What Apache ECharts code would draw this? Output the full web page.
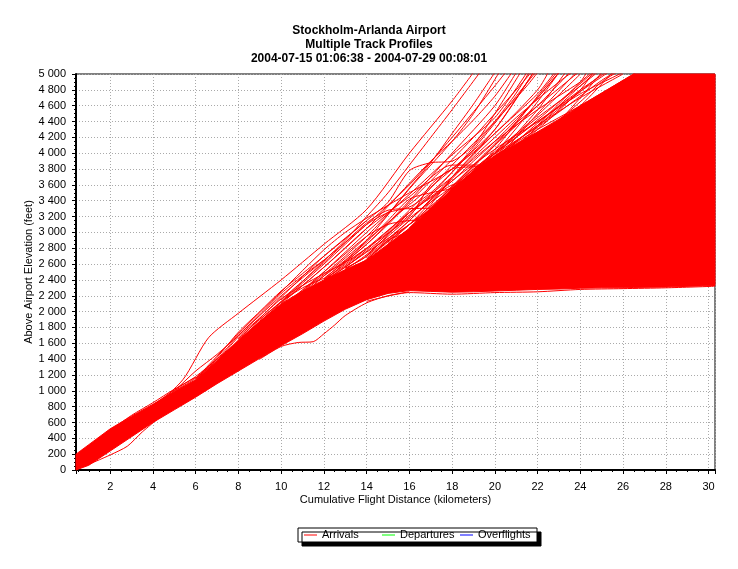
<!DOCTYPE html>
<html><head><meta charset="utf-8">
<script src="https://cdn.jsdelivr.net/npm/echarts@6/dist/echarts.min.js"></script>
<style>html,body{margin:0;padding:0;background:#fff}#c{width:738px;height:569px}</style>
</head><body><div id="c"></div>
<script>
const titleLines = ['Stockholm-Arlanda Airport', 'Multiple Track Profiles', '2004-07-15 01:06:38 - 2004-07-29 00:08:01'];
const legendNames = ['Arrivals', 'Departures', 'Overflights'];
const legendColors = ['#ff0000', '#00ff00', '#0000ff'];

// dense core of arrival profiles (km, lower ft, upper ft)
const bandKm   = [0.4, 1, 2, 3, 4, 5, 6, 7, 8, 9, 10, 11, 12, 13, 14, 15, 16, 17, 18, 19, 20, 21, 22, 23, 24, 25, 26, 26.5, 28, 30.3];
const bandLow  = [0, 60, 240, 420, 600, 760, 920, 1090, 1250, 1410, 1570, 1720, 1880, 2030, 2150, 2230, 2265, 2255, 2245, 2250, 2260, 2270, 2280, 2285, 2295, 2300, 2300, 2305, 2310, 2330];
const bandHigh = [200, 320, 520, 680, 830, 990, 1140, 1380, 1640, 1880, 2100, 2260, 2400, 2530, 2650, 2850, 3050, 3300, 3550, 3780, 3970, 4120, 4270, 4430, 4600, 4760, 4920, 5000, 5000, 5000];

// individual arrival tracks visible outside the core [km, ft]
const tracks = [
 [[0.5,130],[2,420],[4,790],[5.4,1140],[6.6,1670],[8,1980],[10,2400],[12,2850],[14,3290],[16,4000],[18,4660],[19,5020]],
 [[4,800],[5,1000],[6,1250],[7,1460],[8,1700],[9,1950],[10,2200],[12,2650],[14,3100],[16,3600],[18,4200],[20,4850],[20.5,5020]],
 [[6,1150],[8,1720],[10,2250],[12,2780],[13,3000],[14,3180],[16,3500],[18,3800],[20,4250],[22,4800],[22.5,5020]],
 [[8,1650],[10,2180],[12,2700],[14,3150],[15,3380],[16,3780],[17,3880],[18,3900],[19,4100],[20,4500],[21.2,5020]],
 [[10,2100],[12,2560],[14,3050],[16,3450],[18,3850],[19,3850],[20,3880],[22,4300],[24,4800],[24.6,5020]],
 [[10,2050],[12,2500],[14,2950],[15,3100],[16,3150],[17,3170],[18,3400],[20,3950],[22,4550],[23.3,5020]],
 [[11,2200],[12,2450],[14,2900],[16,3350],[18,3800],[20,4300],[21.8,5020]],
 [[12,2400],[14,2800],[16,3200],[17,3600],[18,3800],[19,3830],[20,3850],[22,4200],[24,4600],[25.5,5020]],
 [[12,2380],[14,2750],[16,3100],[18,3500],[20,4000],[22,4650],[23,5020]],
 [[13,2550],[14,2700],[16,3250],[18,3700],[20,4150],[22,4550],[24,4900],[24.5,5020]],
 [[13,2500],[14,2660],[15,2900],[16,3000],[17,3020],[18,3200],[20,3700],[22,4350],[24,4900],[24.3,5020]],
 [[14,2650],[16,3150],[18,3650],[20,4050],[22,4400],[24,4750],[26,5020]],
 [[9,1850],[10,2050],[12,2450],[13,2650],[14,2900],[16,3550],[18,4150],[19,4500],[20.2,5020]],
 [[10,2150],[12,2620],[14,3120],[15,3280],[16,3300],[18,3320],[19,3600],[20,3900],[22,4500],[23.8,5020]],
 [[12,2420],[14,2850],[16,3400],[18,4000],[20,4600],[21,5020]],
 [[15,2850],[16,3050],[18,3580],[20,4100],[22,4600],[23.5,5020]],
 [[16,3000],[18,3500],[20,4000],[22,4450],[24,4850],[24.8,5020]],
 [[17,3250],[18,3450],[20,3900],[22,4380],[24,4800],[25.2,5020]],
 [[18,3500],[20,3950],[22,4350],[24,4700],[26,5000]],
 [[14,2680],[16,3100],[18,3480],[20,3860],[22,4200],[24,4650],[25,4900],[25.7,5020]],
 [[11,2250],[12,2500],[14,3000],[16,3480],[18,3980],[20,4450],[21.5,5020]],
 [[12,2410],[13,2580],[14,2800],[16,3250],[18,3650],[19,3900],[20,4150],[22,4700],[23,5020]],
 [[14,2700],[15,3000],[16,3250],[18,3600],[19,3660],[20,3700],[21,3800],[22,4100],[24,4700],[25,5020]],
 [[16,3050],[17,3350],[18,3700],[20,4300],[21.8,5020]],
 [[19,3780],[20,4000],[22,4400],[24,4780],[25.3,5020]],
 [[20,3970],[22,4300],[24,4600],[26,4920],[26.6,5020]],
 [[13,2530],[14,2720],[16,3180],[18,3580],[20,4020],[22,4480],[24,5000]],
 [[15,2800],[16,2950],[17,3200],[18,3550],[20,4100],[22,4700],[23,5020]],
 [[4,820],[5,1010],[6,1180],[7,1400],[8,1620],[9,1860],[10,2120],[11,2300],[12,2420]],
 [[6,1160],[7,1380],[8,1680],[9,1920],[10,2160],[11,2330],[12,2480],[13,2620],[14,2800]],
 [[0.6,230],[1,300],[2,500],[3,690],[4,850],[5,1020],[6,1170]],
 [[0.9,60],[1.5,130],[2,190],[2.8,300],[3.5,480],[4.2,640]],
 [[9,1400],[10,1560],[10.8,1610],[11.5,1620],[12,1720],[12.5,1830],[13,1950],[14,2110],[15,2200],[16,2250]],
 [[14,2130],[16,2240],[18,2220],[20,2240],[22,2250],[24,2280],[26,2290],[28,2300],[30.3,2320]],
 [[11,2150],[12,2380],[13,2620],[14,2850],[15,3100],[16,3380],[17,3650],[18,3920],[19,4200],[20,4500],[21,4800],[21.7,5020]],
 [[12,2390],[13,2560],[14,2780],[15,3020],[16,3280],[17,3560],[18,3850],[20,4400],[21.5,4850],[22,5020]],
 [[10,2120],[11,2330],[12,2560],[13,2800],[14,3050],[15,3330],[16,3620],[17,3900],[18,4150],[19,4420],[20,4720],[20.8,5020]],
 [[9,1900],[10,2130],[11,2380],[12,2640],[13,2900],[14,3200],[15,3500],[16,3850],[17,4200],[18,4550],[19.3,5020]],
 [[13,2540],[14,2700],[15,2920],[16,3150],[17,3420],[18,3700],[19,3980],[20,4250],[22,4750],[22.8,5020]],
 [[14,2660],[15,2880],[16,3100],[17,3330],[18,3560],[19,3760],[20,3960],[21,4150],[22,4350],[23,4560],[24,4780],[25,5000]],
 [[12,2410],[13,2640],[14,2880],[15,3150],[16,3420],[17,3500],[18,3560],[19,3750],[20,4050],[21,4380],[22,4720],[22.9,5020]],
 [[15,2860],[16,3100],[17,3380],[18,3680],[19,3950],[20,4200],[21,4450],[22,4680],[23,4900],[23.6,5020]],
 [[16,3060],[17,3300],[18,3580],[19,3850],[20,4120],[21,4380],[22,4600],[23,4820],[23.9,5020]],
 [[8,1660],[9,1900],[10,2120],[11,2360],[12,2600],[13,2850],[14,3100],[15,3250],[16,3320],[17,3500],[18,3760],[19,4050],[20,4380],[21,4720],[21.9,5020]],
 [[18,3560],[19,3800],[20,4000],[21,4200],[22,4420],[23,4650],[24,4880],[24.6,5020]],
 [[19,3790],[20,3990],[21,4160],[22,4330],[23,4520],[24,4720],[25,4920],[25.6,5020]],
 [[13,2560],[14,2760],[15,2980],[16,3220],[17,3470],[18,3760],[19,4080],[20,4400],[21,4760],[21.6,5020]],
 [[17,3310],[18,3520],[19,3720],[20,3900],[21,4100],[22,4330],[23,4600],[24,4850],[24.7,5020]],
 [[11,2270],[12,2470],[13,2700],[14,2950],[15,3230],[16,3560],[17,3880],[18,4250],[19,4620],[20,5020]],
 [[5,1000],[6,1160],[7,1400],[8,1700],[9,1960],[10,2230],[11,2450],[12,2650]],
 [[6,1140],[7,1420],[8,1740],[9,2000],[10,2260],[11,2480],[12,2700],[13,2920],[14,3150]]
];

const FONT = 'Liberation Sans, Arial, sans-serif';
const chart = echarts.init(document.getElementById('c'), null, {renderer: 'canvas'});

function fmtFt(v) {
  if (v >= 1000) return Math.floor(v / 1000) + ' ' + String(v % 1000).padStart(3, '0');
  return String(v);
}

const series = [];
series.push({
  type: 'custom', name: legendNames[0], silent: true, z: 2,
  itemStyle: {color: legendColors[0]},
  data: [[bandKm[0], bandLow[0]]],
  renderItem: function (params, api) {
    const pts = [];
    for (let i = 0; i < bandKm.length; i++) pts.push(api.coord([bandKm[i], bandHigh[i]]));
    for (let i = bandKm.length - 1; i >= 0; i--) pts.push(api.coord([bandKm[i], bandLow[i]]));
    return {type: 'polygon', shape: {points: pts}, style: {fill: '#ff0000', stroke: '#ff0000', lineWidth: 1}};
  }
});
tracks.forEach(function (t) {
  series.push({
    type: 'line', name: legendNames[0], data: t, symbol: 'none', smooth: 0.25,
    silent: true, z: 3, clip: true,
    lineStyle: {color: legendColors[0], width: 1}, itemStyle: {color: legendColors[0]}
  });
});
series.push({type: 'line', name: legendNames[1], data: [], symbol: 'none', itemStyle: {color: legendColors[1]}, lineStyle: {color: legendColors[1]}});
series.push({type: 'line', name: legendNames[2], data: [], symbol: 'none', itemStyle: {color: legendColors[2]}, lineStyle: {color: legendColors[2]}});

chart.setOption({
  animation: false,
  backgroundColor: '#ffffff',
  title: {
    text: titleLines.join('\n'), left: 'center', top: 19,
    textStyle: {fontFamily: FONT, fontSize: 12, fontWeight: 'bold', color: '#000', lineHeight: 14}
  },
  grid: {left: 76, right: 23, top: 74, bottom: 99, show: true, borderColor: '#000', borderWidth: 1, backgroundColor: 'transparent'},
  legend: {
    data: legendNames, left: 298, top: 528, orient: 'horizontal',
    icon: 'rect', itemWidth: 13, itemHeight: 1, itemGap: 5,
    padding: [1, 4, 1, 6], selectedMode: false,
    backgroundColor: '#fff', borderColor: '#000', borderWidth: 1, borderRadius: 0,
    shadowColor: '#000', shadowOffsetX: 4, shadowOffsetY: 4, shadowBlur: 0,
    textStyle: {fontFamily: FONT, fontSize: 11, color: '#000', width: 55, lineHeight: 12}
  },
  xAxis: {
    type: 'value', min: 0.4, max: 30.3, splitNumber: 15,
    name: 'Cumulative Flight Distance (kilometers)', nameLocation: 'middle', nameGap: 24,
    nameMoveOverlap: false,
    nameTextStyle: {fontFamily: FONT, fontSize: 11, color: '#000'},
    axisLine: {show: true, onZero: false, lineStyle: {color: '#000', width: 2}},
    axisTick: {show: true, length: 4, lineStyle: {color: '#000'}},
    minorTick: {show: true, splitNumber: 4, length: 2, lineStyle: {color: '#000'}},
    axisLabel: {fontFamily: FONT, fontSize: 11, color: '#000', margin: 11, showMinLabel: false, showMaxLabel: false},
    splitLine: {show: true, lineStyle: {color: '#aaaaaa', type: [1, 2], width: 1}}
  },
  yAxis: {
    type: 'value', min: 0, max: 5000, interval: 200,
    name: 'Above Airport Elevation (feet)', nameLocation: 'middle', nameGap: 42, nameRotate: 90,
    nameMoveOverlap: false,
    nameTextStyle: {fontFamily: FONT, fontSize: 11, color: '#000'},
    axisLine: {show: true, onZero: false, lineStyle: {color: '#000', width: 2}},
    axisTick: {show: true, length: 4, lineStyle: {color: '#000'}},
    minorTick: {show: true, splitNumber: 4, length: 2, lineStyle: {color: '#000'}},
    axisLabel: {fontFamily: FONT, fontSize: 11, color: '#000', margin: 10, formatter: fmtFt},
    splitLine: {show: true, lineStyle: {color: '#aaaaaa', type: [1, 2], width: 1}}
  },
  series: series
});
</script>
</body></html>
